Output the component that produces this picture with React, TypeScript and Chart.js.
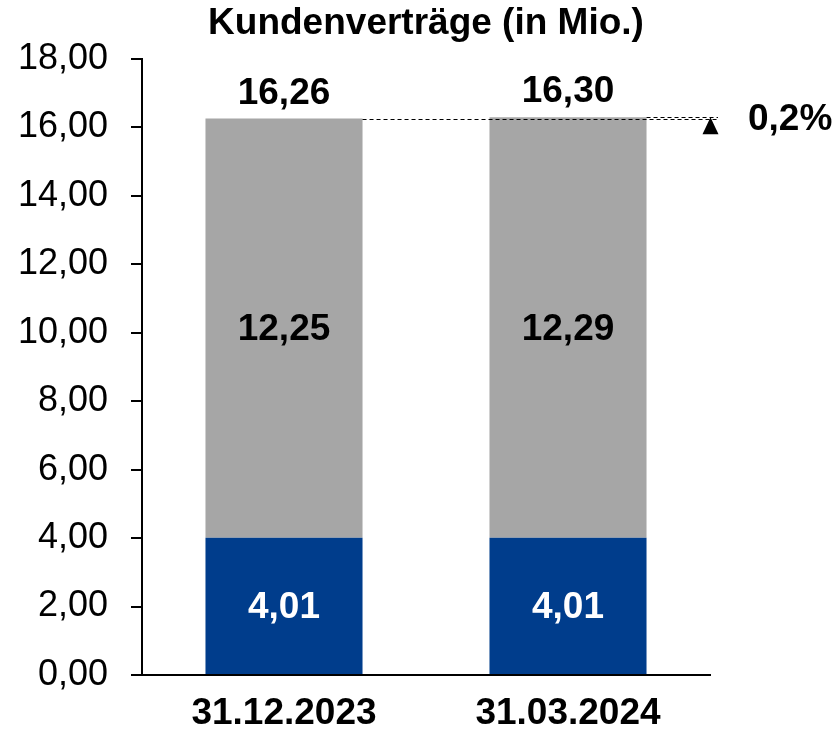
import React, { useEffect, useRef } from "react";
import { Chart, registerables } from "chart.js";

Chart.register(...registerables);

const categories = ["31.12.2023", "31.03.2024"];
const blueValues = [4.01, 4.01];
const greyValues = [12.25, 12.29];
const yTicks = [0, 2, 4, 6, 8, 10, 12, 14, 16, 18];
const titleText = "Kundenverträge (in Mio.)";

const fmt = (v: number) => v.toFixed(2).replace(".", ",");
const totals = categories.map((_, i) => Math.round((blueValues[i] + greyValues[i]) * 100) / 100);
const changePct = ((totals[1] / totals[0] - 1) * 100).toFixed(1).replace(".", ",") + "%";

const FONT = "'Liberation Sans', Arial, sans-serif";

const overlay = {
  id: "overlay",
  afterDatasetsDraw(chart: any) {
    const ctx = chart.ctx;
    const area = chart.chartArea;
    const y = chart.scales.y;
    ctx.save();
    ctx.textBaseline = "middle";
    ctx.textAlign = "center";
    ctx.font = `bold 37px ${FONT}`;
    // segment labels
    chart.data.datasets.forEach((ds: any, di: number) => {
      const meta = chart.getDatasetMeta(di);
      meta.data.forEach((bar: any, i: number) => {
        ctx.fillStyle = di === 0 ? "#ffffff" : "#000000";
        ctx.fillText(fmt(ds.data[i]), bar.x, (bar.y + bar.base) / 2 + 2);
      });
    });
    const topMeta = chart.getDatasetMeta(1);
    ctx.fillStyle = "#000";
    topMeta.data.forEach((bar: any, i: number) => {
      ctx.fillText(fmt(totals[i]), bar.x, y.getPixelForValue(totals[i]) - 25);
    });
    // dashed reference lines
    const xEnd = area.right + 8;
    ctx.strokeStyle = "#000";
    ctx.lineWidth = 1.2;
    ctx.setLineDash([4, 3]);
    topMeta.data.forEach((bar: any, i: number) => {
      const py = Math.round(y.getPixelForValue(totals[i])) + 0.5;
      ctx.beginPath();
      ctx.moveTo(bar.x + bar.width / 2, py);
      ctx.lineTo(xEnd, py);
      ctx.stroke();
    });
    ctx.setLineDash([]);
    // triangle
    const tx = area.right + 0.5;
    const ty = y.getPixelForValue(totals[1]);
    ctx.beginPath();
    ctx.moveTo(tx, ty);
    ctx.lineTo(tx + 8, ty + 17);
    ctx.lineTo(tx - 8, ty + 17);
    ctx.closePath();
    ctx.fill();
    ctx.textAlign = "left";
    ctx.fillText(changePct, area.right + 38, ty + 3);
    // x labels
    ctx.textAlign = "center";
    topMeta.data.forEach((bar: any, i: number) => {
      ctx.fillText(categories[i], bar.x, area.bottom + 39);
    });
    // title
    ctx.fillText(titleText, (area.left + area.right) / 2, 24);
    ctx.restore();
  },
};

export default function App() {
  const ref = useRef<HTMLCanvasElement>(null);
  useEffect(() => {
    if (!ref.current) return;
    const chart = new Chart(ref.current, {
      type: "bar",
      data: {
        labels: categories,
        datasets: [
          { label: "a", data: blueValues, backgroundColor: "#003D8C", barPercentage: 0.553, categoryPercentage: 1 },
          { label: "b", data: greyValues, backgroundColor: "#A6A6A6", barPercentage: 0.553, categoryPercentage: 1 },
        ],
      },
      options: {
        animation: false,
        responsive: false,
        maintainAspectRatio: false,
        layout: { padding: { top: 59, right: 128, left: 0, bottom: 0 } },
        plugins: { legend: { display: false }, tooltip: { enabled: false }, title: { display: false } },
        scales: {
          x: {
            stacked: true,
            grid: { display: false },
            border: { display: true, color: "#000", width: 2 },
            ticks: { display: false },
            afterFit: (s: any) => { s.height = 54; },
          },
          y: {
            stacked: true,
            min: 0,
            max: 18,
            afterBuildTicks: (s: any) => { s.ticks = yTicks.map((v) => ({ value: v })); },
            grid: { drawOnChartArea: false, drawTicks: true, tickLength: 11, color: "#000", lineWidth: 2 },
            border: { display: true, color: "#000", width: 2 },
            ticks: {
              padding: 23,
              color: "#000",
              font: { family: FONT, size: 36 },
              callback: (v: any) => fmt(Number(v)),
            },
            afterFit: (s: any) => { s.width = 142; },
          },
        },
      },
      plugins: [overlay],
    });
    return () => chart.destroy();
  }, []);
  return (
    <div style={{ position: "fixed", left: 0, top: 0, width: 838, height: 729, background: "#fff" }}>
      <canvas ref={ref} width={838} height={729} />
    </div>
  );
}
